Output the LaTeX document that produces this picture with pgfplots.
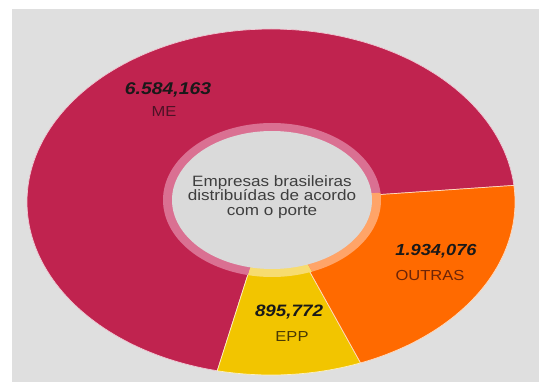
\documentclass[border=0pt]{standalone}
\usepackage{pgfplots}
\usepackage{pgfplotstable}
\pgfplotsset{compat=1.18}
\usepackage{fontspec}
\setmainfont{Liberation Sans}
\definecolor{bgg}{HTML}{DFDFDF}
\definecolor{cME}{HTML}{C0234F}
\definecolor{cOU}{HTML}{FF6A00}
\definecolor{cEP}{HTML}{F2C500}
\definecolor{lME}{HTML}{DA7092}
\definecolor{lOU}{HTML}{FFA468}
\definecolor{lEP}{HTML}{F7DC70}
\definecolor{hole}{HTML}{DADADA}
\definecolor{tME}{HTML}{4D1226}
\definecolor{tOU}{HTML}{6B2408}
\definecolor{tEP}{HTML}{4A3A05}
\definecolor{tC}{HTML}{3E3E3E}
% values in thousands of companies
\pgfplotstableread{
porte valor
ME 6584.163
EPP 895.772
OUTRAS 1934.076
}\dados
\pgfplotstablegetelem{0}{valor}\of\dados \let\vME\pgfplotsretval
\pgfplotstablegetelem{1}{valor}\of\dados \let\vEP\pgfplotsretval
\pgfplotstablegetelem{2}{valor}\of\dados \let\vOU\pgfplotsretval
\pgfmathsetmacro\tot{\vME+\vEP+\vOU}
\pgfmathsetmacro\fME{\vME/\tot}
\pgfmathsetmacro\fEP{\vEP/\tot}
\pgfmathsetmacro\fOU{\vOU/\tot}
\pgfmathsetmacro\aA{5.5}
\pgfmathsetmacro\aB{\aA+360*\fME}
\pgfmathsetmacro\aC{\aB+360*\fEP}
\pgfmathsetmacro\aD{\aC+360*\fOU}
\tikzset{wide/.style={xscale=1.14,transform shape}}
\begin{document}
\begin{tikzpicture}
\begin{axis}[width=539bp,height=383bp,scale only axis,
  xmin=0,xmax=539,ymin=0,ymax=383,axis lines=none,clip=true]
\fill[white] (axis cs:0,0) rectangle (axis cs:539,383);
\fill[bgg] (axis cs:12,1) rectangle (axis cs:539,374);
% outer slices
\addplot[fill=cME,draw=white!75!cME,line width=0.7pt,domain=\aA:\aB,samples=150]
  ({271+244*cos(x)},{181+173*sin(x)}) -- (axis cs:271,181) -- cycle;
\addplot[fill=cEP,draw=white!75!cEP,line width=0.7pt,domain=\aB:\aC,samples=40]
  ({271+244*cos(x)},{181+173*sin(x)}) -- (axis cs:271,181) -- cycle;
\addplot[fill=cOU,draw=white!75!cOU,line width=0.7pt,domain=\aC:\aD,samples=60]
  ({271+244*cos(x)},{181+173*sin(x)}) -- (axis cs:271,181) -- cycle;
% inner light ring
\addplot[fill=lME,draw=none,domain=\aA:\aB,samples=120]
  ({272+109*cos(x)},{183+77*sin(x)}) -- (axis cs:272,183) -- cycle;
\addplot[fill=lEP,draw=none,domain=\aB:\aC,samples=30]
  ({272+109*cos(x)},{183+77*sin(x)}) -- (axis cs:272,183) -- cycle;
\addplot[fill=lOU,draw=none,domain=\aC:\aD,samples=50]
  ({272+109*cos(x)},{183+77*sin(x)}) -- (axis cs:272,183) -- cycle;
% hole
\addplot[fill=hole,draw=none,domain=0:360,samples=150]
  ({272+100*cos(x)},{183+69*sin(x)}) -- cycle;
% labels
\node[wide,font=\fontsize{17bp}{19bp}\selectfont\bfseries\itshape,text=black!90] at (axis cs:168,293) {6.584,163};
\node[wide,font=\fontsize{14.5bp}{16bp}\selectfont,text=tME] at (axis cs:164,271) {ME};
\node[wide,font=\fontsize{16bp}{18bp}\selectfont\bfseries\itshape,text=black!90] at (axis cs:436,132) {1.934,076};
\node[wide,font=\fontsize{14.5bp}{16bp}\selectfont,text=tOU] at (axis cs:430,107) {OUTRAS};
\node[wide,font=\fontsize{16.5bp}{18bp}\selectfont\bfseries\itshape,text=black!90] at (axis cs:289,71) {895,772};
\node[wide,font=\fontsize{14.5bp}{16bp}\selectfont,text=tEP] at (axis cs:292,46) {EPP};
\node[wide,font=\fontsize{15bp}{14.6bp}\selectfont,text=tC,align=center] at (axis cs:272,186)
  {Empresas brasileiras\\distribuídas de acordo\\com o porte};
\end{axis}
\end{tikzpicture}
\end{document}
